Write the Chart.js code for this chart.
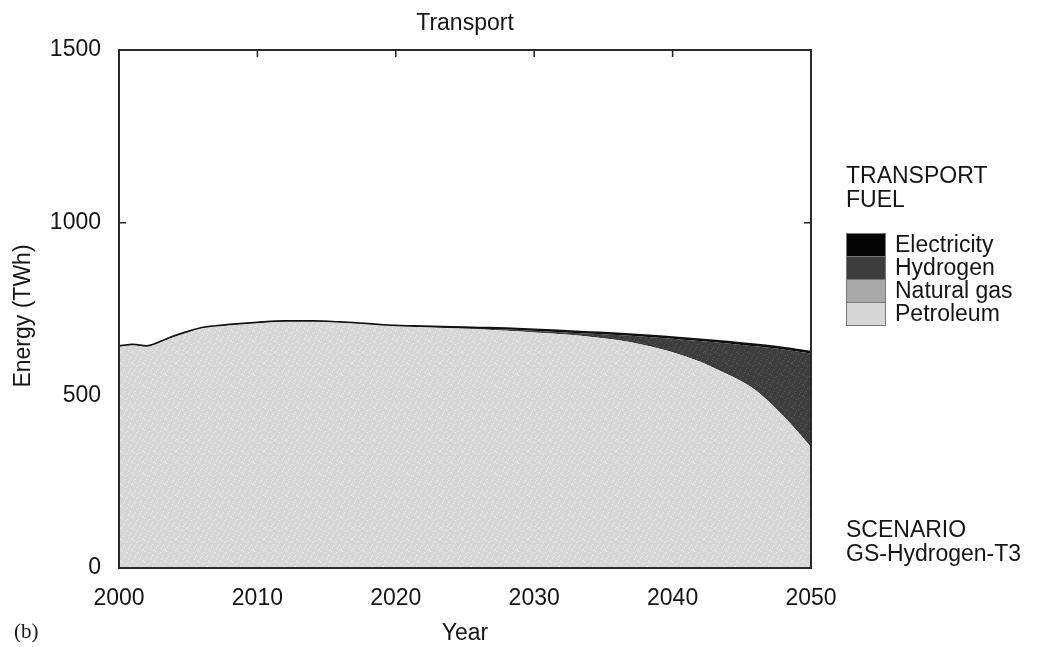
<!DOCTYPE html>
<html>
<head>
<meta charset="utf-8">
<title>Transport</title>
<script src="https://cdn.jsdelivr.net/npm/chart.js@4.4.1/dist/chart.umd.min.js"></script>
<style>
  body { margin: 0; background: #fff; }
  #wrap { position: relative; width: 1038px; height: 647px; font-family: "Liberation Sans", Arial, sans-serif; color: #151515; }
  #wrap canvas { position: absolute; left: 0; top: 0; }
  .t { position: absolute; white-space: nowrap; line-height: 1; }
  .legend-row { position: absolute; left: 846px; height: 23px; white-space: nowrap; }
  .legend-row .sw { position: absolute; left: 0; top: 0; width: 38px; height: 22px; border: 1px solid #777; }
  .legend-row .lb { position: absolute; left: 49px; top: 0; font-size: 23px; line-height: 23px; white-space: nowrap; }
</style>
</head>
<body>
<div id="wrap">
  <canvas id="c" width="1038" height="647"></canvas>
  <div class="t" style="left:465px;top:22px;transform:translate(-50%,-50%);font-size:23px;">Transport</div>
  <div class="t" style="left:846px;top:163px;font-size:23px;line-height:24px;">TRANSPORT<br>FUEL</div>
  <div id="legend"></div>
  <div class="t" style="left:846px;top:517px;font-size:23px;line-height:24px;">SCENARIO<br>GS-Hydrogen-T3</div>
  <div class="t" style="left:14px;top:621px;font-size:21px;font-family:'Liberation Serif','DejaVu Serif',serif;">(b)</div>
  <div class="t" style="left:22px;top:316px;transform:translate(-50%,-50%) rotate(-90deg);font-size:23px;">Energy (TWh)</div>
</div>
<script>
// Transport fuel demand (TWh), GS-Hydrogen-T3 scenario
const years = [2000, 2001, 2002, 2003, 2004, 2005, 2006, 2007, 2008, 2010, 2012, 2014, 2016, 2018, 2020,
               2022, 2024, 2026, 2028, 2030, 2032, 2034, 2036, 2038, 2040,
               2042, 2044, 2045, 2046, 2047, 2048, 2049, 2050];

const petroleum   = [641, 645, 641, 654, 670, 683, 694, 699, 703, 709, 713, 713, 710, 705, 700,
                     697, 694, 691, 687, 682, 677, 670, 660, 645, 625,
                     597, 560, 540, 515, 480, 440, 397, 350];
const naturalGas  = [0, 0, 0, 0, 0, 0, 0, 0, 0, 0, 0, 0, 0, 0, 0,
                     0, 0, 0, 0, 0, 0, 0, 0, 0, 0,
                     0, 0, 0, 0, 0, 0, 0, 0];
const hydrogen    = [0, 0, 0, 0, 0, 0, 0, 0, 0, 0, 0, 0, 0, 0, 0,
                     1, 1, 2, 4, 5, 6, 9, 15, 25, 39,
                     60, 90, 106, 127, 158, 193, 230, 271];
const electricity = [2, 2, 2, 2, 2, 2, 2, 2, 2, 2, 2, 2, 2, 2, 2,
                     2, 3, 3, 3, 4, 4, 4, 4, 4, 4,
                     5, 5, 5, 5, 5, 5, 5, 5];

const yTicks = [0, 500, 1000, 1500];
const xTicks = [2000, 2010, 2020, 2030, 2040, 2050];

const seriesNames = ['Electricity', 'Hydrogen', 'Natural gas', 'Petroleum'];
const seriesColors = ['#050505', '#3d3d3d', '#a9a9a9', '#d7d7d7'];
const dotColors = ['#050505', '#575757', '#c0c0c0', '#eeeeee'];

// stippled fill: base colour with a scattered set of lighter dots
function stipple(base, dot) {
  const c = document.createElement('canvas');
  c.width = 11; c.height = 11;
  const g = c.getContext('2d');
  g.fillStyle = base; g.fillRect(0, 0, 11, 11);
  g.fillStyle = dot;
  [[1,1],[6,2],[9,5],[3,6],[7,9],[0,10],[4,3],[10,0],[2,8],[8,7]].forEach(([x, y]) => g.fillRect(x, y, 1, 1));
  return g.createPattern(c, 'repeat');
}
const fills = seriesColors.map((c, i) => stipple(c, dotColors[i]));

// legend swatches and labels
const legend = document.getElementById('legend');
seriesNames.forEach((name, i) => {
  const row = document.createElement('div');
  row.className = 'legend-row';
  row.style.top = (233 + i * 23) + 'px';
  const sw = document.createElement('div');
  sw.className = 'sw';
  sw.style.background = seriesColors[i];
  const lb = document.createElement('div');
  lb.className = 'lb';
  lb.textContent = name;
  row.appendChild(sw); row.appendChild(lb);
  legend.appendChild(row);
});

const pts = arr => years.map((y, i) => ({ x: y, y: arr[i] }));

// inward ticks and frame round the plot area
const framePlugin = {
  id: 'frame',
  beforeDatasetsDraw(chart) {
    const { ctx, chartArea: a, scales: { x, y } } = chart;
    ctx.save();
    ctx.strokeStyle = '#222';
    ctx.lineWidth = 1.5;
    ctx.beginPath();
    xTicks.slice(1, -1).forEach(v => {
      const px = x.getPixelForValue(v);
      ctx.moveTo(px, a.top); ctx.lineTo(px, a.top + 7);
      ctx.moveTo(px, a.bottom); ctx.lineTo(px, a.bottom - 7);
    });
    yTicks.slice(1, -1).forEach(v => {
      const py = y.getPixelForValue(v);
      ctx.moveTo(a.left, py); ctx.lineTo(a.left + 7, py);
      ctx.moveTo(a.right, py); ctx.lineTo(a.right - 7, py);
    });
    ctx.stroke();
    ctx.restore();
  },
  afterDatasetsDraw(chart) {
    const { ctx, chartArea: a } = chart;
    ctx.save();
    ctx.strokeStyle = '#2a2a2a';
    ctx.lineWidth = 2;
    ctx.strokeRect(a.left, a.top, a.right - a.left, a.bottom - a.top);
    ctx.restore();
  }
};

const axisFont = { family: 'Liberation Sans', size: 23 };

new Chart(document.getElementById('c'), {
  type: 'line',
  data: {
    datasets: [
      { label: 'Petroleum',   data: pts(petroleum),   backgroundColor: fills[3], borderWidth: 0, fill: 'origin' },
      { label: 'Natural gas', data: pts(naturalGas),  backgroundColor: fills[2], borderWidth: 0, fill: '-1' },
      { label: 'Hydrogen',    data: pts(hydrogen),    backgroundColor: fills[1], borderWidth: 0, fill: '-1' },
      { label: 'Electricity', data: pts(electricity), backgroundColor: fills[0], borderColor: '#111', borderWidth: 2, fill: '-1' }
    ]
  },
  options: {
    responsive: false,
    animation: false,
    events: [],
    layout: { padding: { top: 50, right: 227, left: 0, bottom: 0 } },
    elements: { point: { radius: 0 }, line: { cubicInterpolationMode: 'monotone' } },
    plugins: { legend: { display: false }, tooltip: { enabled: false }, title: { display: false } },
    scales: {
      x: {
        type: 'linear',
        min: 2000, max: 2050,
        afterBuildTicks: s => { s.ticks = xTicks.map(v => ({ value: v })); },
        afterFit: s => { s.height = 79; },
        grid: { display: false, drawTicks: false },
        border: { display: false },
        ticks: { padding: 17, color: '#151515', font: axisFont, callback: v => String(v) },
        title: { display: true, text: 'Year', color: '#151515', font: axisFont, padding: { top: 0, bottom: 0 } }
      },
      y: {
        stacked: true,
        min: 0, max: 1500,
        afterBuildTicks: s => { s.ticks = yTicks.map(v => ({ value: v })); },
        afterFit: s => { s.width = 119; },
        grid: { display: false, drawTicks: false },
        border: { display: false },
        ticks: { padding: 18, color: '#151515', font: axisFont, callback: v => String(v) },
        title: { display: false }
      }
    }
  },
  plugins: [framePlugin]
});
</script>
</body>
</html>
